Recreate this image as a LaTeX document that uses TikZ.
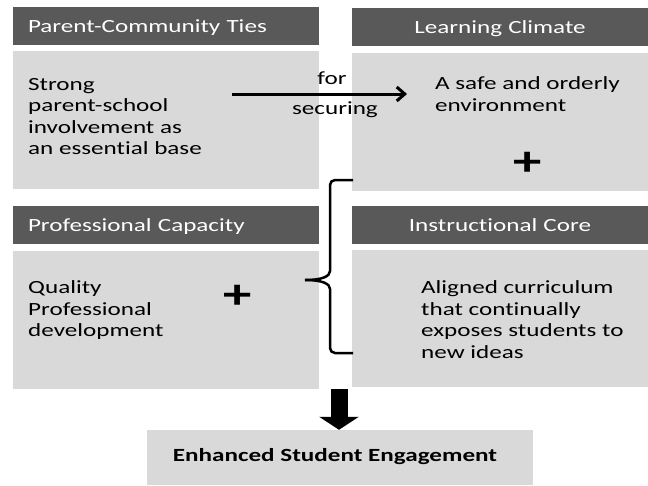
\documentclass[tikz,border=0pt]{standalone}
\usepackage{fontspec}
\setmainfont{Carlito}[FakeStretch=1.35, Ligatures=CommonOff]
\usetikzlibrary{arrows.meta}
\definecolor{headgray}{HTML}{595959}
\definecolor{bodygray}{HTML}{D9D9D9}
\begin{document}
\begin{tikzpicture}[x=1pt, y=-1pt,
	txt/.style={font=\fontsize{18.6pt}{21.5pt}\selectfont, inner sep=0pt, align=left},
	head/.style={txt, fill=headgray, text=white, minimum height=38pt, inner xsep=15pt, text depth=0pt},
	panel/.style={fill=bodygray, inner sep=0pt, minimum height=138pt},
	plus/.style={font=\fontsize{42pt}{42pt}\selectfont\bfseries, inner sep=0pt},
	flow/.style={line width=3pt, -{Straight Barb[length=8pt, width=14pt]}},
	bigarrow/.style={line width=17pt, -{Triangle[length=13pt, width=39pt]}},
	bracket/.style={line width=2.5pt, rounded corners=5pt}]
				\useasboundingbox (0,0) rectangle (648,485);
				\node[head, text width=276pt] (PCT) at (166,26) {Parent-Community Ties};
				\node[head, text width=266pt, align=center] (LC) at (500,27) {Learning Climate};
				\node[head, text width=276pt] (PCap) at (166,225) {Professional Capacity};
				\node[head, text width=266pt, align=center] (IC) at (500,225) {Instructional Core};
				\node[panel, minimum width=306pt] (PCTbox) at (166,120) {};
				\node[panel, minimum width=296pt] (LCbox) at (500,122) {};
				\node[panel, minimum width=306pt] (PCapbox) at (166,320) {};
				\node[panel, minimum width=296pt, minimum height=137pt] (ICbox) at (500,318.5) {};
				\node[txt, anchor=west] (PCTtext) at (28,116.5) {Strong\\parent-school\\involvement as\\an essential base};
				\node[txt, anchor=west] (LCtext) at (435,94) {A safe and orderly\\environment};
				\node[txt, anchor=west] (PCaptext) at (28,310.5) {Quality\\Professional\\development};
				\node[txt, anchor=west] (ICtext) at (421,319.5) {Aligned curriculum\\that continually\\exposes students to\\new ideas};
				\node[plus] (plusLC) at (528,163.5) {+};
				\node[plus] (plusPCap) at (238,297) {+};
				\node[txt] (for) at (332,78) {for};
				\node[txt] (securing) at (335,110) {securing};
				\coordinate (fs) at (232,94);
				\coordinate (fe) at (407,94);
				\draw[flow] (fs) -- (fe);
				\draw[bracket] (353,180) -- (330,180) -- (330,266) .. controls (330,276) and (323,280) .. (305,280);
				\draw[bracket] (305,280) .. controls (323,280) and (330,284) .. (330,294) -- (330,353) -- (353,353);
				\node[panel, minimum width=386pt, minimum height=55pt] (ESE) at (340,457.5) {};
				\node[txt, font=\fontsize{18.6pt}{21.5pt}\selectfont\bfseries] (ESEtext) at (335,457) {Enhanced Student Engagement};
				\coordinate (dn) at (339,389);
				\draw[bigarrow] (dn) -- (dn |- ESE.north);
			\end{tikzpicture}
\end{document}
